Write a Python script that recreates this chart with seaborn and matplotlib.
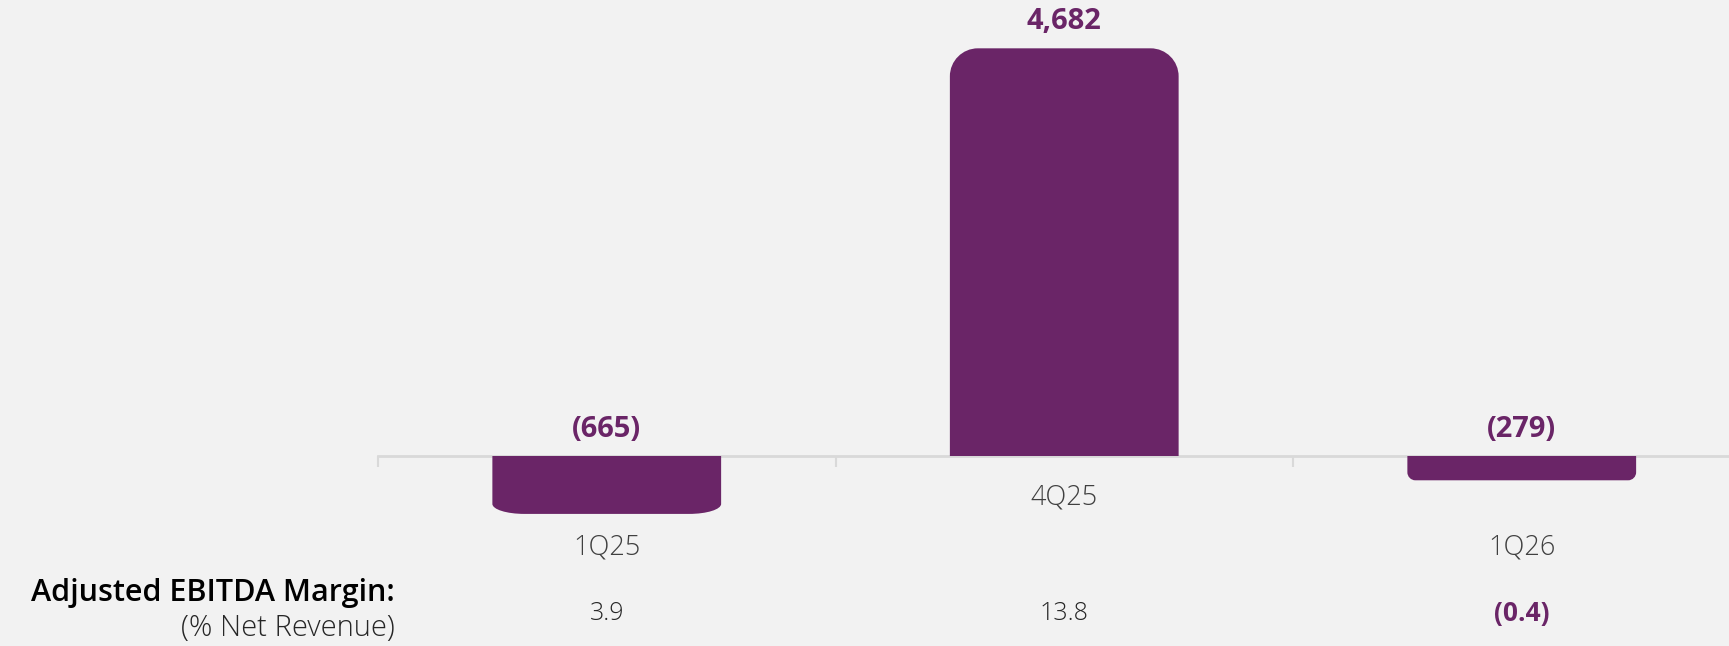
import matplotlib
matplotlib.use("Agg")
import matplotlib.pyplot as plt
from matplotlib.path import Path
from matplotlib.patches import PathPatch
import pandas as pd
import seaborn as sns

# Adjusted EBITDA by quarter
quarters = ["1Q25", "4Q25", "1Q26"]
ebitda = [-665, 4682, -279]
value_labels = ["(665)", "4,682", "(279)"]

# Adjusted EBITDA margin (% of net revenue)
margin_labels = ["3.9", "13.8", "(0.4)"]
margin_values = [3.9, 13.8, -0.4]

PURPLE = "#6a2567"
BG = "#f2f2f2"
AXIS = "#d9d9d9"
DARK = "#262626"
GREY = "#404040"

# corner radii (px) at the far end of each bar: (horizontal, vertical)
corner_radii = [(32, 10), (28, 28), (8, 8)]

sns.set_theme(style="white")
plt.rcParams["font.family"] = ["Open Sans", "DejaVu Sans"]

W, H = 1729, 646
fig = plt.figure(figsize=(W / 100, H / 100), dpi=100, facecolor=BG)
left_px = 378
ax = fig.add_axes([left_px / W, 0, 1 - left_px / W, 1])
ax.set_facecolor(BG)

df = pd.DataFrame({"quarter": quarters, "ebitda": ebitda})
sns.barplot(data=df, x="quarter", y="ebitda", color=PURPLE, width=0.5,
            saturation=1, ax=ax, zorder=3)

# baseline with category separators
for side in ["left", "right", "top"]:
    ax.spines[side].set_visible(False)
ax.spines["bottom"].set_position(("data", 0))
ax.spines["bottom"].set_color(AXIS)
ax.spines["bottom"].set_linewidth(2)
ax.spines["bottom"].set_zorder(2)
ax.set_xticks([-0.5, 0.5, 1.5, 2.5])
ax.set_xticklabels([])
ax.tick_params(axis="x", direction="out", length=8, width=1.5, color=AXIS,
               bottom=True)
ax.set_yticks([])
ax.set_xlabel("")
ax.set_ylabel("")

ax.set_xlim(-0.5, 2.453)
ax.set_ylim(-2182, 5237)

# pixel scale of the data axes
p0 = ax.transData.transform((0, 0))
sx = ax.transData.transform((1, 0))[0] - p0[0]
sy = ax.transData.transform((0, 1))[1] - p0[1]

K = 0.5523
for patch, (rxp, ryp) in zip(list(ax.patches), corner_radii):
    x0 = patch.get_x()
    w = patch.get_width()
    h = patch.get_height()
    x1 = x0 + w
    s = 1 if h >= 0 else -1
    rx = rxp / sx
    ry = min(ryp / sy, abs(h))
    far = h
    verts = [
        (x0, 0),
        (x0, far - s * ry),
        (x0, far - s * ry + s * K * ry), (x0 + rx - K * rx, far), (x0 + rx, far),
        (x1 - rx, far),
        (x1 - rx + K * rx, far), (x1, far - s * ry + s * K * ry), (x1, far - s * ry),
        (x1, 0),
        (x0, 0),
    ]
    codes = [Path.MOVETO, Path.LINETO,
             Path.CURVE4, Path.CURVE4, Path.CURVE4,
             Path.LINETO,
             Path.CURVE4, Path.CURVE4, Path.CURVE4,
             Path.LINETO, Path.CLOSEPOLY]
    ax.add_patch(PathPatch(Path(verts, codes), facecolor=PURPLE,
                           edgecolor="none", zorder=3))
    patch.set_visible(False)

lowest = min(ebitda)
for i, (q, v, lab) in enumerate(zip(quarters, ebitda, value_labels)):
    ax.annotate(lab, (i, max(v, 0)), xytext=(0, 19), textcoords="offset points",
                ha="center", va="center", fontsize=21, fontweight="bold",
                color=PURPLE)
    if v < 0:
        ax.annotate(q, (i, lowest), xytext=(0, -24), textcoords="offset points",
                    ha="center", va="center", fontsize=19.5, fontweight="light",
                    color=GREY)
    else:
        ax.annotate(q, (i, 0), xytext=(0, -30), textcoords="offset points",
                    ha="center", va="center", fontsize=19.5, fontweight="light",
                    color=GREY)

# margin row
row_y = 1 - 613 / H
for i, (lab, m) in enumerate(zip(margin_labels, margin_values)):
    xf = ax.transData.transform((i, 0))[0] / W
    if m < 0:
        fig.text(xf, row_y, lab, ha="center", va="center", fontsize=19,
                 fontweight="bold", color=PURPLE)
    else:
        fig.text(xf, row_y, lab, ha="center", va="center", fontsize=18,
                 fontweight="light", color=DARK)

fig.text(395 / W, 1 - 593 / H, "Adjusted EBITDA Margin:", ha="right",
         va="center", fontsize=22, fontweight="semibold", color="#000000")
fig.text(395 / W, 1 - 628 / H, "(% Net Revenue)", ha="right", va="center",
         fontsize=21, fontweight="light", color=DARK)

fig.savefig("out.png", dpi=100, facecolor=BG)
